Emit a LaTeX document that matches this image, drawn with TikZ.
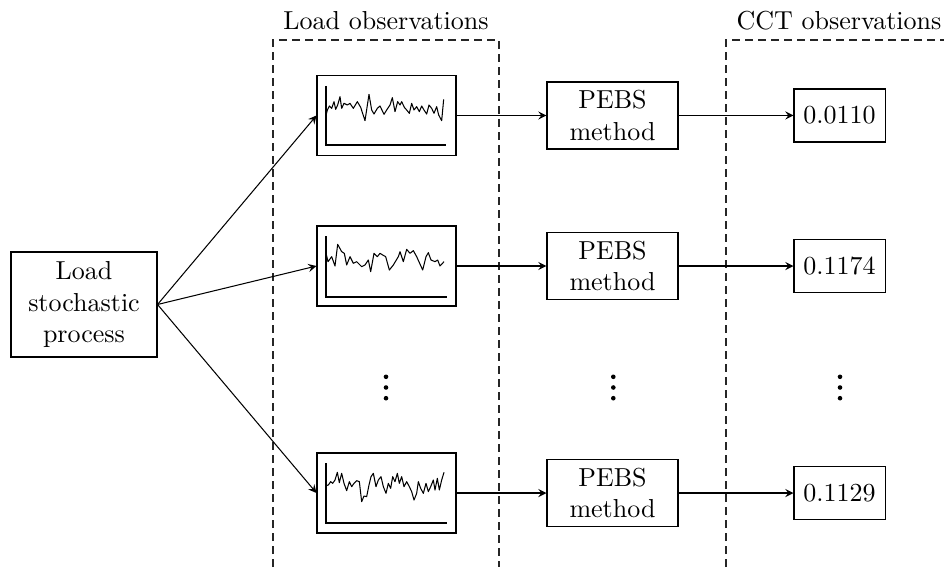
\documentclass[tikz,border=0pt]{standalone}
\usetikzlibrary{arrows}
\def\U{0.3846pt}
\begin{document}
\begin{tikzpicture}[x=\U,y=-\U,
  box/.style={draw,inner sep=0pt,align=center},
  srcbox/.style={box,minimum width=146*\U,minimum height=105*\U},
  obsbox/.style={box,minimum width=139*\U,minimum height=80*\U},
  pebsbox/.style={box,minimum width=131*\U,minimum height=67*\U},
  cctbox/.style={box,minimum width=91*\U,minimum height=53*\U},
  arr/.style={-stealth},
  grp/.style={densely dashed,black!85},
  wave/.style={line join=round},
  lbl/.style={anchor=base,inner sep=0pt},
  dotmark/.style={fill=black}]
\path[use as bounding box] (0,0) rectangle (944,567);
\clip (0,0) rectangle (944,567);

% group frames
\draw[grp] (273,567) -- (273,40) -- (499,40) -- (499,567);
\draw[grp] (726,567) -- (726,40) -- (944,40);
\node[lbl] (tl) at (386,30) {Load observations};
\node[lbl] (tc) at (839,30) {CCT observations};

% nodes
\node[srcbox] (L) at (84,304.5) {Load\\stochastic\\process};
\node[obsbox] (o1) at (386.5,115.5) {};
\node[obsbox] (o2) at (386.5,266) {};
\node[obsbox] (o3) at (386.5,493) {};
\node[pebsbox] (p1) at (612.5,115.5) {PEBS\\method};
\node[pebsbox] (p2) at (612.5,266) {PEBS\\method};
\node[pebsbox] (p3) at (612.5,493) {PEBS\\method};
\node[cctbox] (c1) at (839.5,115.5) {0.0110};
\node[cctbox] (c2) at (839.5,266) {0.1174};
\node[cctbox] (c3) at (839.5,493) {0.1129};

% vertical ellipses
\foreach \x in {386,613.3,840}{
  \foreach \y in {376.8,387.5,398.2}{
    \fill[dotmark] (\x,\y) circle[radius=2.3];
  }
}

% connectors
\draw[arr] (L.east) -- (o1.west);
\draw[arr] (L.east) -- (o2.west);
\draw[arr] (L.east) -- (o3.west);
\foreach \i in {1,2,3}{
  \draw[arr] (o\i.east) -- (p\i.west);
  \draw[arr] (p\i.east) -- (c\i.west);
}

% axes
\draw (326,86) -- (326,145) -- (446,145);
\draw (326,236) -- (326,297) -- (447,297);
\draw (326,463) -- (326,523) -- (447,523);

% waves
\begin{scope}[shift={(270,0)},scale=1/3]
\draw[wave] (167,350) -- (172,330) -- (178,318) -- (185,325) -- (192,305) -- (197,328) -- (203,315) -- (210,290) -- (215,325) -- (222,310) -- (232,315) -- (240,310) -- (250,325) -- (262,305) -- (272,322) -- (285,362) -- (297,283) -- (305,330) -- (312,342) -- (322,325) -- (330,318) -- (342,343) -- (350,330) -- (360,315) -- (367,293) -- (375,335) -- (383,305) -- (390,315) -- (395,305) -- (403,322) -- (410,330) -- (418,340) -- (425,310) -- (432,330) -- (440,320) -- (448,335) -- (455,318) -- (462,330) -- (470,342) -- (477,315) -- (485,325) -- (492,340) -- (500,320) -- (506,345) -- (515,362) -- (521,298);
\end{scope}
\begin{scope}[shift={(300,210)},scale=1/3]
\draw[wave] (77,125) -- (84,155) -- (95,140) -- (105,168) -- (113,103) -- (125,125) -- (133,130) -- (140,165) -- (150,140) -- (160,160) -- (170,155) -- (185,170) -- (195,165) -- (205,150) -- (212,185) -- (222,130) -- (232,140) -- (240,130) -- (248,135) -- (257,140) -- (268,180) -- (280,165) -- (295,140) -- (300,125) -- (310,155) -- (320,118) -- (330,130) -- (340,122) -- (350,140) -- (368,180) -- (378,140) -- (385,128) -- (393,150) -- (405,155) -- (413,150) -- (420,168) -- (432,155);
\end{scope}
\begin{scope}[shift={(300,440)},scale=1/3]
\draw[wave] (77,137) -- (85,135) -- (92,125) -- (98,130) -- (105,120) -- (112,97) -- (118,128) -- (125,100) -- (132,130) -- (140,152) -- (148,125) -- (155,140) -- (162,130) -- (170,122) -- (178,125) -- (185,185) -- (192,168) -- (200,170) -- (207,135) -- (213,110) -- (220,100) -- (228,140) -- (235,120) -- (243,110) -- (250,140) -- (258,160) -- (265,130) -- (272,145) -- (278,110) -- (285,125) -- (292,100) -- (298,130) -- (305,110) -- (312,140) -- (320,125) -- (328,140) -- (335,155) -- (342,180) -- (350,160) -- (355,125) -- (362,145) -- (370,160) -- (378,130) -- (385,155) -- (392,140) -- (400,120) -- (405,150) -- (412,115) -- (418,150) -- (425,120) -- (432,97);
\end{scope}
\end{tikzpicture}
\end{document}
